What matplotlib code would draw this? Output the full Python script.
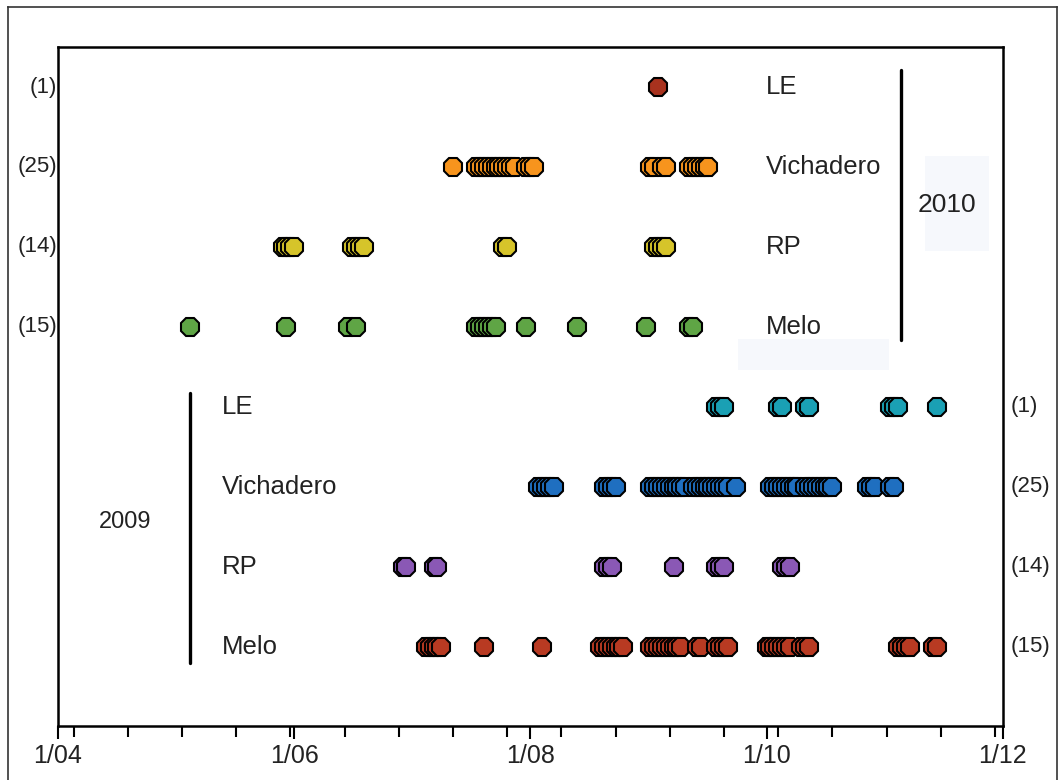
import matplotlib
matplotlib.use('Agg')
import matplotlib.pyplot as plt
from matplotlib.lines import Line2D
from matplotlib.patches import Rectangle

plt.rcParams['font.family'] = ['Liberation Sans', 'DejaVu Sans']

# x = days since 1 April
month_ticks = [0, 61, 122, 183, 244]
month_labels = ['1/04', '1/06', '1/08', '1/10', '1/12']
minor_ticks = [4, 18, 32, 46, 60, 74, 88, 102, 116, 130, 144, 158, 172, 186, 200, 214, 228, 242]

sites = ['LE', 'Vichadero', 'RP', 'Melo']
counts = ['(1)', '(25)', '(14)', '(15)']

# 2010 records
le_2010 = [155]
vich_2010 = [102, 108, 109, 110, 111, 112, 113, 114, 115, 116, 117, 118, 121, 122, 123,
             153, 154, 156, 157, 163, 164, 165, 166, 167, 168]
rp_2010 = [58, 59, 60, 61, 76, 77, 78, 79, 115, 116, 154, 155, 156, 157]
melo_2010 = [34, 59, 75, 77, 108, 109, 110, 111, 112, 113, 121, 134, 152, 163, 164]

# 2009 records
le_2009 = [170, 171, 172, 186, 187, 193, 194, 215, 216, 217, 227]
vich_2009 = [124, 125, 126, 127, 128, 141, 142, 143, 144,
             153, 154, 155, 156, 157, 158, 159, 160, 161, 162, 164, 165, 166, 167, 168, 169,
             170, 171, 172, 173, 175,
             184, 185, 186, 187, 188, 189, 190, 191, 193, 194, 195, 196, 197, 198, 199, 200,
             209, 210, 211, 215, 216]
rp_2009 = [89, 90, 97, 98, 141, 142, 143, 159, 170, 171, 172, 187, 188, 189]
melo_2009 = [95, 96, 97, 98, 99, 110, 125, 140, 141, 142, 143, 144, 145, 146,
             153, 154, 155, 156, 157, 158, 159, 160, 161, 165, 166, 170, 171, 172, 173,
             183, 184, 185, 186, 187, 188, 189, 192, 193, 194, 217, 218, 219, 220, 226, 227]

rows_2010 = [8, 7, 6, 5]
rows_2009 = [4, 3, 2, 1]
series_2010 = [le_2010, vich_2010, rp_2010, melo_2010]
series_2009 = [le_2009, vich_2009, rp_2009, melo_2009]
colors_2010 = ['#a8321e', '#f7941d', '#d6c42a', '#5fa545']
colors_2009 = ['#1aa0b4', '#1f6fc0', '#8a58b5', '#b83a22']

fig = plt.figure(figsize=(10.59, 7.80), dpi=100)
ax = fig.add_axes([0.0548, 0.0692, 0.892, 0.8705])

# faint scan patches
ax.add_patch(Rectangle((0.918, 0.70), 0.068, 0.14, transform=ax.transAxes,
                       facecolor='#f6f8fc', edgecolor='none', zorder=0))
ax.add_patch(Rectangle((0.72, 0.525), 0.16, 0.045, transform=ax.transAxes,
                       facecolor='#f6f8fc', edgecolor='none', zorder=0))

for days, row, col in zip(series_2010, rows_2010, colors_2010):
    ax.plot(days, [row] * len(days), linestyle='none', marker='8', markersize=13.5,
            markerfacecolor=col, markeredgecolor='black', markeredgewidth=1.5, zorder=3)
for days, row, col in zip(series_2009, rows_2009, colors_2009):
    ax.plot(days, [row] * len(days), linestyle='none', marker='8', markersize=13.5,
            markerfacecolor=col, markeredgecolor='black', markeredgewidth=1.5, zorder=3)

# site names
for name, row in zip(sites, rows_2010):
    ax.text(182.8, row, name, fontsize=18.5, ha='left', va='center', color='#222222')
for name, row in zip(sites, rows_2009):
    ax.text(42.3, row, name, fontsize=18.5, ha='left', va='center', color='#222222')

# year brackets
ax.plot([217.7, 217.7], [8.21, 4.84], color='black', linewidth=2.4, solid_capstyle='round')
ax.text(229.5, 6.53, '2010', fontsize=19, ha='center', va='center', color='#222222')
ax.plot([34.1, 34.1], [4.18, 0.8], color='black', linewidth=2.4, solid_capstyle='round')
ax.text(17.3, 2.56, '2009', fontsize=17, ha='center', va='center', color='#222222')

# counts outside the axes
side_tr = ax.get_yaxis_transform()
for c, row in zip(counts, rows_2010):
    ax.text(-0.001, row, c, transform=side_tr, fontsize=16, ha='right', va='center',
            color='#222222')
for c, row in zip(counts, rows_2009):
    ax.text(1.008, row, c, transform=side_tr, fontsize=16, ha='left', va='center',
            color='#222222')

ax.set_xlim(0, 244)
ax.set_ylim(0.01, 8.5)
ax.set_xticks(month_ticks)
ax.set_xticklabels(month_labels, fontsize=18, color='#222222')
ax.set_xticks(minor_ticks, minor=True)
ax.set_yticks([])
ax.tick_params(axis='x', which='major', direction='out', length=9, width=1.5, pad=4)
ax.tick_params(axis='x', which='minor', direction='out', length=8, width=1.5)
for sp in ax.spines.values():
    sp.set_linewidth(1.8)
    sp.set_color('black')

# outer frame (bottom edge cropped off in the original)
frame_kw = dict(transform=fig.transFigure, color='#333333', linewidth=1.2)
fig.add_artist(Line2D([8 / 1059, 8 / 1059], [0, 1 - 7 / 780], **frame_kw))
fig.add_artist(Line2D([8 / 1059, 1057 / 1059], [1 - 7 / 780, 1 - 7 / 780], **frame_kw))
fig.add_artist(Line2D([1057 / 1059, 1057 / 1059], [0, 1 - 7 / 780], **frame_kw))

fig.savefig('out.png', dpi=100)
